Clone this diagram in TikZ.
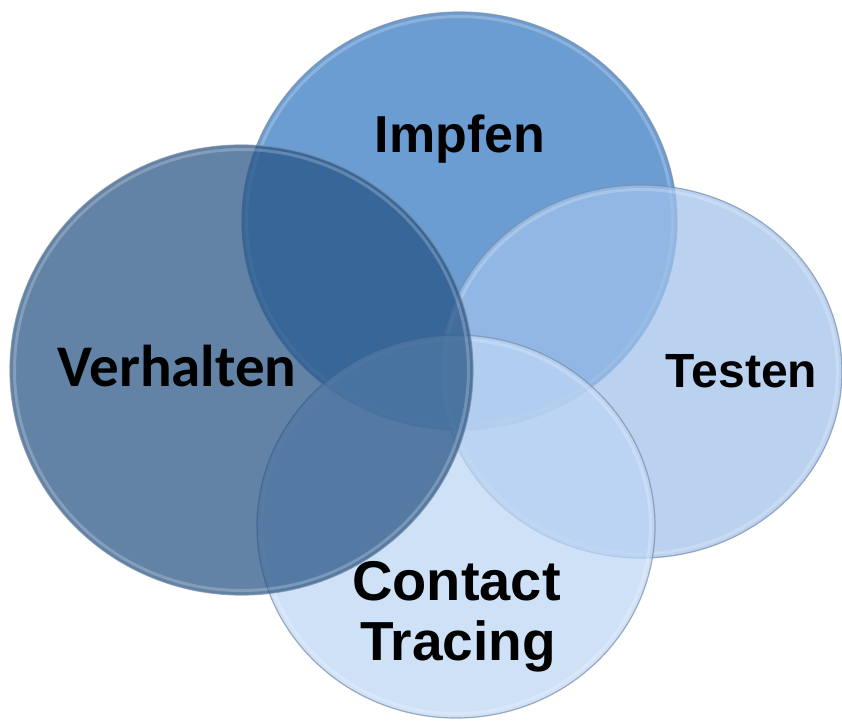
\documentclass[tikz,border=0pt]{standalone}
\usepackage{fontspec}
\setmainfont{Liberation Sans}
\newfontfamily\carlito{Carlito}
\definecolor{impfenblue}{RGB}{108,157,210}
\definecolor{testenblue}{RGB}{160,194,235}
\definecolor{contactblue}{RGB}{190,214,245}
\definecolor{verhaltenblue}{RGB}{34,80,130}
\definecolor{rimgray}{RGB}{120,140,162}
\begin{document}
\begin{tikzpicture}[x=1pt,y=-1pt,
  outerrim/.style={draw=rimgray, line width=1.2pt, draw opacity=0.7},
  innerrim/.style={draw=white, line width=3pt, draw opacity=0.22},
  lbl/.style={text=black, inner sep=0pt, anchor=base},
  arialbold/.style={lbl, font=\bfseries\fontsize{#1}{#1}\selectfont},
  calibribold/.style={lbl, font=\carlito\bfseries\fontsize{#1}{#1}\selectfont}]

% page frame
\fill[white] (0,0) rectangle (842,724);
\useasboundingbox (0,0) rectangle (842,724);

% glass discs, back to front
% Impfen
\fill[impfenblue] (459.5,221) ellipse [x radius=217.5pt, y radius=209pt];
\draw[innerrim] (459.5,221) ellipse [x radius=213pt, y radius=204.5pt];
\draw[outerrim] (459.5,221) ellipse [x radius=217.5pt, y radius=209pt];

% Testen
\fill[testenblue, fill opacity=0.72] (641,371.5) ellipse [x radius=201pt, y radius=186.5pt];
\draw[innerrim] (641,371.5) ellipse [x radius=196.5pt, y radius=182pt];
\draw[outerrim] (641,371.5) ellipse [x radius=201pt, y radius=186.5pt];

% Contact Tracing
\fill[contactblue, fill opacity=0.73] (456,526.5) ellipse [x radius=199pt, y radius=191.5pt];
\draw[innerrim] (456,526.5) ellipse [x radius=194.5pt, y radius=187pt];
\draw[outerrim] (456,526.5) ellipse [x radius=199pt, y radius=191.5pt];

% Verhalten
\fill[verhaltenblue, fill opacity=0.71] (241.5,370) ellipse [x radius=231.5pt, y radius=225pt];
\draw[innerrim] (241.5,370) ellipse [x radius=227pt, y radius=220.5pt];
\draw[outerrim] (241.5,370) ellipse [x radius=231.5pt, y radius=225pt];

% labels
\node[arialbold=52] (impfen) at (460,152) {Impfen};
\node[arialbold=48] (testen) at (741.5,387) {Testen};
\node[calibribold=59] (verhalten) at (177,386) {Verhalten};
\node[arialbold=56] (contact) at (456.5,600) {Contact};
\node[arialbold=55] (tracing) at (458,660) {Tracing};
\end{tikzpicture}
\end{document}
